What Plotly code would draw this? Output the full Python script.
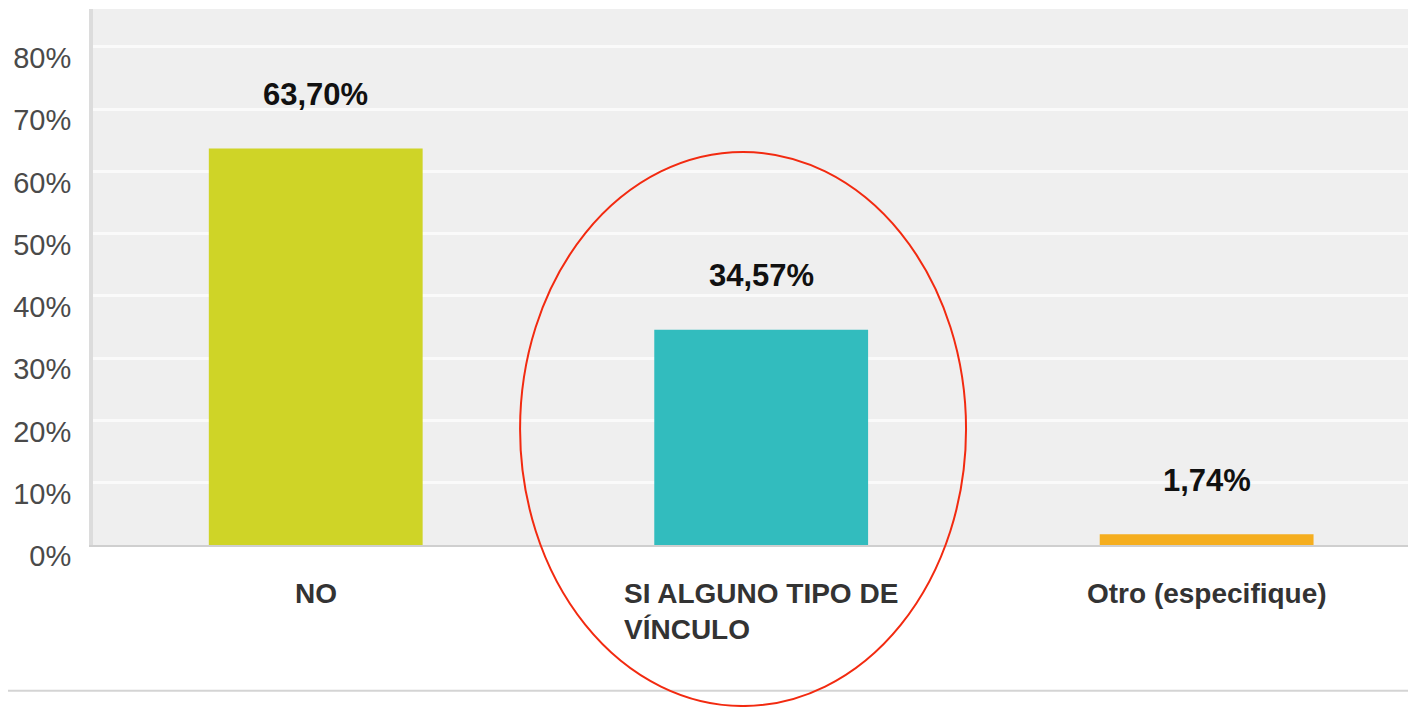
import plotly.graph_objects as go

categories = ["NO", "SI ALGUNO TIPO DE<br>VÍNCULO", "Otro (especifique)"]
values = [63.70, 34.57, 1.74]
value_labels = ["63,70%", "34,57%", "1,74%"]
bar_colors = ["#CFD427", "#32BCBE", "#F5AE1F"]
tick_vals = [0, 10, 20, 30, 40, 50, 60, 70, 80]
tick_text = ["0%", "10%", "20%", "30%", "40%", "50%", "60%", "70%", "80%"]

fig = go.Figure()
fig.add_trace(
    go.Bar(
        x=list(range(len(categories))),
        y=values,
        marker={"color": bar_colors, "line": {"width": 0}},
        width=0.48,
        hoverinfo="skip",
    )
)

# value labels above the bars
for i, (v, lab) in enumerate(zip(values, value_labels)):
    fig.add_annotation(
        x=i, y=v, xref="x", yref="y",
        text=f"<b>{lab}</b>",
        showarrow=False,
        yanchor="middle",
        yshift=54,
        font={"family": "Liberation Sans, Arial", "size": 31, "color": "#111111"},
    )

# category labels (left-aligned lines, block centred under the bar)
for i, cat in enumerate(categories):
    fig.add_annotation(
        x=i, y=0, xref="x", yref="paper",
        text=f"<b>{cat}</b>",
        showarrow=False,
        xanchor="center",
        yanchor="top",
        align="left",
        yshift=-31,
        font={"family": "Liberation Sans, Arial", "size": 28, "color": "#333333"},
    )

# bottom separator line
fig.add_shape(
    type="line", xref="paper", yref="paper",
    x0=-0.07, x1=1.0, y0=-0.272, y1=-0.272,
    line={"color": "#d4d4d4", "width": 2},
)

# red highlight ellipse
fig.add_shape(
    type="circle", xref="paper", yref="paper",
    x0=0.3228, x1=0.6599, y0=-0.3004, y1=0.7332,
    line={"color": "#F22A10", "width": 2},
    layer="above",
)

fig.update_layout(
    width=1408,
    height=699,
    margin={"l": 85, "r": 0, "t": 1, "b": 162},
    paper_bgcolor="white",
    plot_bgcolor="#EFEFEF",
    showlegend=False,
    xaxis={
        "range": [-0.5, 2.47],
        "showticklabels": False,
        "showgrid": False,
        "zeroline": False,
        "showline": True,
        "linecolor": "#CFCFCF",
        "linewidth": 2,
        "fixedrange": True,
    },
    yaxis={
        "range": [0, 86.1],
        "tickvals": tick_vals,
        "ticktext": tick_text,
        "showgrid": True,
        "gridcolor": "#FAFAFA",
        "gridwidth": 3,
        "zeroline": False,
        "showline": True,
        "linecolor": "#DCDCDC",
        "linewidth": 4,
        "ticks": "",
        "ticklabelstandoff": 12,
        "ticklabelshift": 11,
        "tickfont": {"family": "Liberation Sans, Arial", "size": 29, "color": "#4a4a4a"},
        "fixedrange": True,
    },
)

fig.write_html("out.html", config={"displayModeBar": False})
